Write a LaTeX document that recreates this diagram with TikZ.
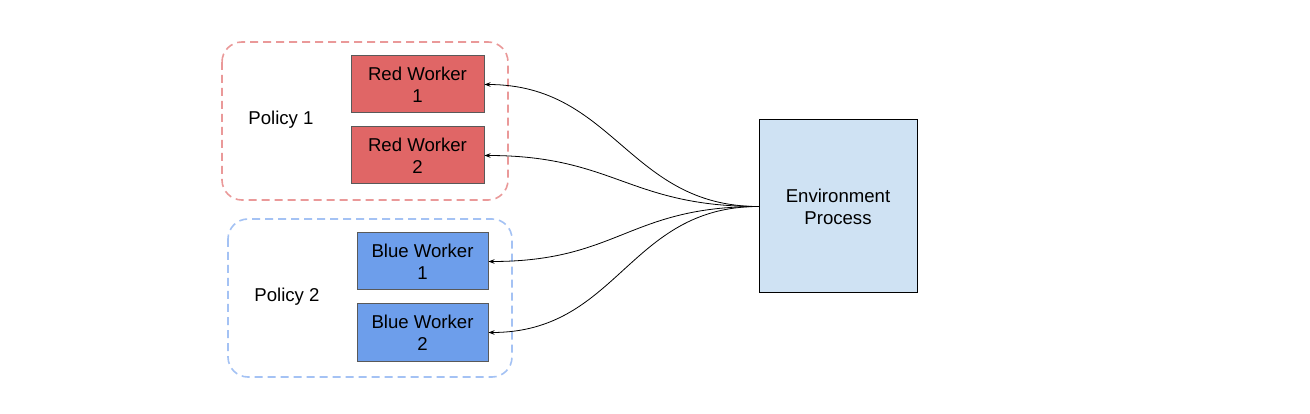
\documentclass[tikz,border=0pt]{standalone}
\usepackage{fontspec}
\setmainfont{Liberation Sans}
\usetikzlibrary{arrows.meta,calc}
\definecolor{redfill}{HTML}{E06666}
\definecolor{bluefill}{HTML}{6D9EEB}
\definecolor{envfill}{HTML}{CFE2F3}
\definecolor{reddash}{HTML}{EA9999}
\definecolor{bluedash}{HTML}{A4C2F4}
\definecolor{boxline}{HTML}{595959}
\tikzset{
  worker/.style={draw=boxline, line width=1pt, minimum width=#1, minimum height=57pt, inner sep=0pt, align=center, font=\fontsize{18.6}{22}\selectfont},
  groupbox/.style={draw=#1, line width=1.6pt, dash pattern=on 8pt off 5pt, rounded corners=20pt},
  lbl/.style={font=\fontsize{18.6}{22}\selectfont},
  conn/.style={-{Stealth[length=6pt,width=4.5pt]}, line width=0.8pt, black},
}
\begin{document}
\begin{tikzpicture}[x=1pt,y=-1pt]
\useasboundingbox (0,0) rectangle (1310,414);
\fill[white] (0,0) rectangle (1310,414);
\draw[groupbox=reddash] (222,42) rectangle (508,200);
\draw[groupbox=bluedash] (228,219) rectangle (512,377);
\node[worker=133pt, fill=redfill] (r1) at (417.5,84.5) {Red Worker\\1};
\node[worker=133pt, fill=redfill] (r2) at (417.5,155.5) {Red Worker\\2};
\node[worker=131pt, fill=bluefill] (b1) at (422.5,261.5) {Blue Worker\\1};
\node[worker=131pt, fill=bluefill] (b2) at (422.5,332.5) {Blue Worker\\2};
\node[lbl] (p1) at (281,120) {Policy 1};
\node[lbl] (p2) at (287,297) {Policy 2};
\node[draw=black, line width=1pt, fill=envfill, minimum width=158pt, minimum height=173pt, inner sep=0pt, align=center, font=\fontsize{18.6}{22}\selectfont] (env) at (838,206.5) {Environment\\Process};
\foreach \t in {r1,r2,b1,b2}{
  \draw[conn] (env.west) .. controls ++(-130,0) and ($(\t.east)+(130,0)$) .. (\t.east);
}
\end{tikzpicture}
\end{document}
